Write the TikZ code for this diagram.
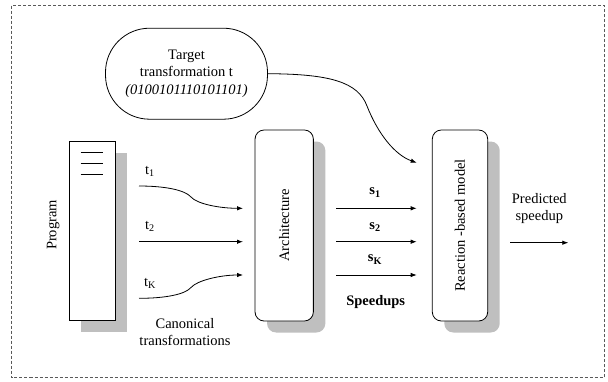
\documentclass[tikz,border=0pt]{standalone}
\usepackage{fontspec}
\setmainfont{Liberation Serif}
\usetikzlibrary{arrows.meta,shadows}
\begin{document}
\begin{tikzpicture}[x=1pt,y=-1pt,
  line width=0.8pt,
  txt/.style={font=\fontsize{14.5}{17}\selectfont, inner sep=0pt, align=center},
  sh/.style={drop shadow={shadow xshift=12pt, shadow yshift=-11.5pt, fill=black!25, opacity=1, draw=none}},
  box/.style={draw, fill=white, sh, rounded corners=9pt, inner sep=0pt},
  arr/.style={-{Latex[length=6pt,width=4.5pt]}},
  frame/.style={draw=black!65, line width=0.9pt, dash pattern=on 3pt off 2pt}
]
\useasboundingbox (0,0) rectangle (608,381);
\draw[frame] (11.5,5.5) rectangle (604,377.5);

% target
\node[draw, rounded corners=44pt, minimum width=162pt, minimum height=91pt, font=\fontsize{14.5}{17.2}\selectfont, align=center] (tgt) at (186.5,73.7)
  {Target\\transformation t\\\textit{(0100101110101101)}};

% program
\node[draw, fill=white, sh, minimum width=46pt, minimum height=179pt, inner sep=0pt] (prog) at (92.3,231.2) {};
\draw[line width=0.7pt] (80.7,152.3) -- (103.3,152.3);
\draw[line width=0.7pt] (80.7,163.3) -- (103.3,163.3);
\draw[line width=0.7pt] (80.7,174.3) -- (103.3,174.3);
\node[txt, rotate=90] (proglbl) at (53.3,225) {Program};

% architecture
\node[box, minimum width=58.3pt, minimum height=191pt, txt] (arch) at (284.2,225.5) {\rotatebox{90}{Architecture}};
% reaction-based model
\node[box, minimum width=55.4pt, minimum height=191pt, txt] (rbm) at (460,225.5) {\rotatebox{90}{Reaction -based model}};

% t arrows
\coordinate (t1s) at (139,186);
\coordinate (t1e) at (243,208.3);
\coordinate (t2s) at (139,241.7);
\coordinate (t2e) at (243,241.7);
\coordinate (tks) at (139,298.3);
\coordinate (tke) at (243,275);
\draw[arr] (t1s) .. controls (165,186) and (185,190) .. (191,197) .. controls (197,204) and (220,208.3) .. (t1e);
\draw[arr] (t2s) -- (t2e);
\draw[arr] (tks) .. controls (165,298.3) and (185,294.5) .. (191,287.5) .. controls (197,280.5) and (220,275) .. (tke);
\node[txt] (t1l) at (150,171) {t\textsubscript{1}};
\node[txt] (t2l) at (150,226) {t\textsubscript{2}};
\node[txt] (tkl) at (150,283) {t\textsubscript{K}};
\node[txt] (canon) at (185,332) {Canonical\\transformations};

% s arrows
\coordinate (s1s) at (336,208.3);
\coordinate (s1e) at (416.7,208.3);
\coordinate (s2s) at (336,241.7);
\coordinate (s2e) at (416.7,241.7);
\coordinate (sks) at (336,275);
\coordinate (ske) at (416.7,275);
\draw[arr] (s1s) -- (s1e);
\draw[arr] (s2s) -- (s2e);
\draw[arr] (sks) -- (ske);
\node[txt] (s1l) at (375,192.5) {\textbf{s\textsubscript{1}}};
\node[txt] (s2l) at (375,227) {\textbf{s\textsubscript{2}}};
\node[txt] (skl) at (375,259.5) {\textbf{s\textsubscript{K}}};
\node[txt, font=\fontsize{14.5}{17}\selectfont\bfseries] (spd) at (375.7,301.7) {Speedups};

% target curve
\coordinate (tge) at (416.7,162.7);
\draw[arr] (tgt.east) .. controls (330,74) and (358,82) .. (367,106) .. controls (378,134) and (395,155) .. (tge);

% predicted
\coordinate (ps) at (510,242.7);
\coordinate (pe) at (568.3,242.7);
\draw[arr] (ps) -- (pe);
\node[txt] (pred) at (539.3,208.3) {Predicted\\speedup};
\end{tikzpicture}
\end{document}
